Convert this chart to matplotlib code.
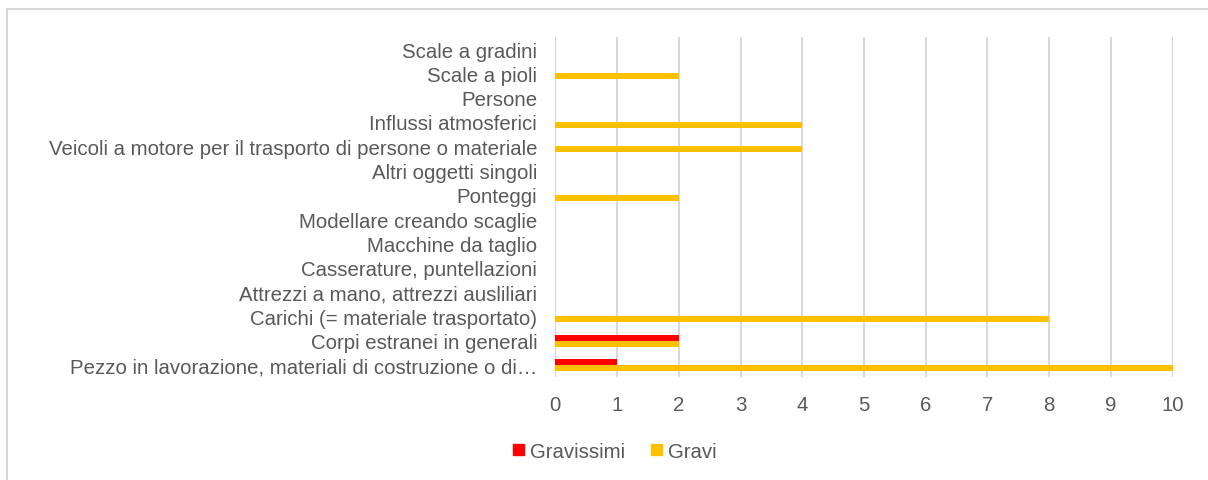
import matplotlib.pyplot as plt
from matplotlib.patches import Patch, Rectangle
import numpy as np

# categories bottom to top
categories = [
    'Pezzo in lavorazione, materiali di costruzione o di…',
    'Corpi estranei in generali',
    'Carichi (= materiale trasportato)',
    'Attrezzi a mano, attrezzi ausliliari',
    'Casserature, puntellazioni',
    'Macchine da taglio',
    'Modellare creando scaglie',
    'Ponteggi',
    'Altri oggetti singoli',
    'Veicoli a motore per il trasporto di persone o materiale',
    'Influssi atmosferici',
    'Persone',
    'Scale a pioli',
    'Scale a gradini',
]
gravissimi = [1, 2, 0, 0, 0, 0, 0, 0, 0, 0, 0, 0, 0, 0]
gravi = [10, 2, 8, 0, 0, 0, 0, 2, 0, 4, 4, 0, 2, 0]
x_ticks = list(range(0, 11))

plt.rcParams['font.family'] = ['Liberation Sans', 'DejaVu Sans']
text_col = '#595959'
grid_col = '#D9D9D9'
red = '#FF0000'
yellow = '#FFC000'
fs = 14.7

fig = plt.figure(figsize=(12.08, 4.81), dpi=100)

# outer chart frame
fig.patches.append(Rectangle((6.5 / 1208, -0.1), 1.2, (481 - 9.5) / 481 + 0.1,
                             transform=fig.transFigure, fill=False,
                             edgecolor=grid_col, linewidth=1.5))

ax = fig.add_axes([555.3 / 1208, 103 / 481, 617.4 / 1208, 340 / 481])

y = np.arange(len(categories))
h = 0.247
ax.barh(y + h / 2, gravissimi, height=h, color=red, label='Gravissimi', zorder=3)
ax.barh(y - h / 2, gravi, height=h, color=yellow, label='Gravi', zorder=3)

ax.set_xlim(0, 10)
ax.set_ylim(-0.5, len(categories) - 0.5)
ax.set_xticks(x_ticks)
ax.set_yticks(y)
ax.set_yticklabels(categories)
ax.tick_params(axis='both', length=0, labelsize=fs, labelcolor=text_col)
ax.tick_params(axis='x', pad=13)
ax.tick_params(axis='y', pad=13)
ax.grid(axis='x', color=grid_col, linewidth=1.5, zorder=0)
for s in ax.spines.values():
    s.set_visible(False)

handles = [Patch(color=red, label='Gravissimi'), Patch(color=yellow, label='Gravi')]
fig.legend(handles=handles, loc='center', bbox_to_anchor=(0.509, 0.06), ncol=2,
           frameon=False, fontsize=fs, labelcolor=text_col,
           handlelength=0.5, handleheight=0.5, handletextpad=0.3, columnspacing=1.3)

fig.savefig('out.png', dpi=100)
